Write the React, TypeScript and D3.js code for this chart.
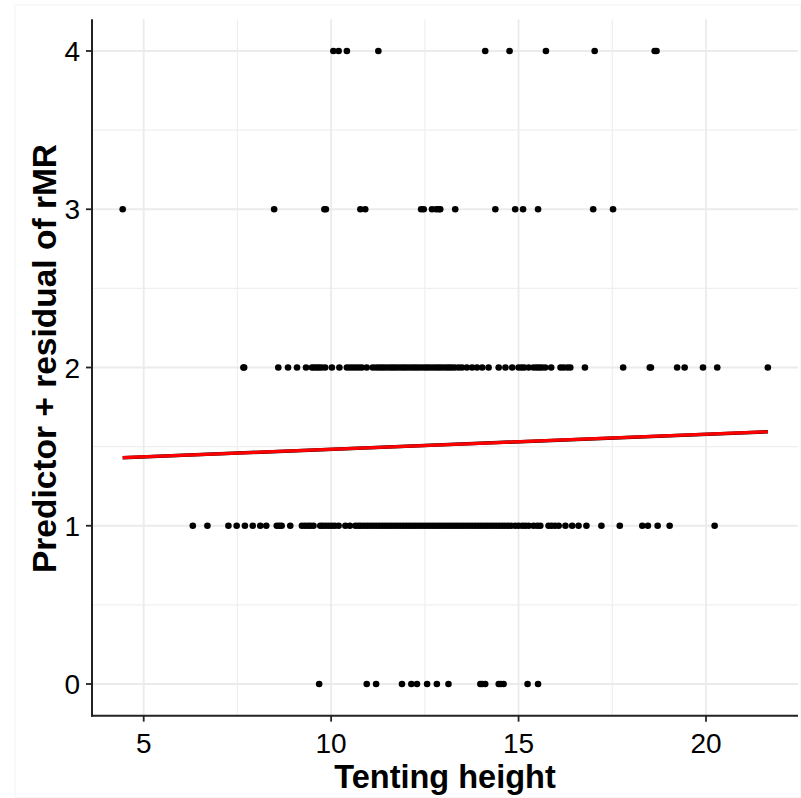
import React from "react";
import * as d3 from "d3";

const row0 = [9.68, 10.95, 11.2, 11.89, 12.14, 12.29, 12.56, 12.82, 13.13, 13.98, 14.03, 14.11, 14.47, 14.53, 14.6, 15.24, 15.52];
const row1 = [6.31, 6.7, 7.26, 7.48, 7.7, 7.91, 8.11, 8.27, 8.55, 8.62, 8.68, 8.91, 9.22, 9.3, 9.38, 9.45, 9.53, 9.71, 9.78, 9.86, 9.94, 10.02, 10.1, 10.2, 10.38, 10.5, 10.65, 10.73, 10.8, 10.88, 10.96, 11.04, 11.12, 11.2, 11.28, 11.36, 11.44, 11.52, 11.6, 11.68, 11.76, 11.84, 11.92, 12.0, 12.08, 12.16, 12.24, 12.32, 12.4, 12.48, 12.56, 12.64, 12.72, 12.8, 12.88, 12.96, 13.04, 13.12, 13.2, 13.28, 13.36, 13.44, 13.52, 13.6, 13.68, 13.76, 13.84, 13.92, 14.0, 14.08, 14.16, 14.24, 14.32, 14.4, 14.48, 14.56, 14.64, 14.72, 14.8, 14.91, 15.0, 15.1, 15.18, 15.27, 15.4, 15.5, 15.58, 15.8, 15.88, 15.97, 16.07, 16.25, 16.43, 16.6, 16.81, 17.21, 17.7, 18.3, 18.45, 18.71, 19.03, 20.23];
const row2 = [7.66, 7.68, 8.59, 8.85, 9.09, 9.33, 9.49, 9.55, 9.62, 9.68, 9.75, 9.84, 10.02, 10.22, 10.42, 10.5, 10.58, 10.66, 10.74, 10.82, 10.95, 11.11, 11.2, 11.28, 11.35, 11.42, 11.5, 11.58, 11.65, 11.72, 11.8, 11.88, 11.95, 12.02, 12.1, 12.18, 12.25, 12.32, 12.4, 12.48, 12.55, 12.62, 12.7, 12.78, 12.85, 12.92, 13.0, 13.08, 13.15, 13.22, 13.3, 13.4, 13.49, 13.62, 13.76, 13.89, 14.03, 14.2, 14.47, 14.65, 14.83, 15.0, 15.08, 15.15, 15.27, 15.4, 15.48, 15.55, 15.62, 15.71, 15.87, 16.12, 16.2, 16.3, 16.38, 16.77, 17.79, 18.5, 18.53, 19.23, 19.43, 19.92, 20.3, 21.65];
const row3 = [4.44, 8.48, 9.82, 9.86, 10.78, 10.91, 12.4, 12.47, 12.69, 12.8, 12.87, 12.91, 13.31, 14.38, 14.91, 15.12, 15.52, 16.99, 17.52];
const row4 = [10.06, 10.2, 10.42, 11.26, 14.11, 14.76, 15.73, 17.03, 18.63, 18.68];
const rows = [row0, row1, row2, row3, row4];

const fitX = [4.44, 21.65];
const fitY = [1.43, 1.594];

const xTicks = [5, 10, 15, 20];
const xMinor = [7.5, 12.5, 17.5];
const yTicks = [0, 1, 2, 3, 4];
const yMinor = [0.5, 1.5, 2.5, 3.5];

const W = 801, H = 798;
const L = 92, R = 798, T = 19.35, B = 715.65;

export default function App() {
  const x = d3.scaleLinear().domain([3.621, 22.454]).range([L, R]);
  const y = d3.scaleLinear().domain([-0.2, 4.2]).range([B, T]);
  const line = d3.line<number>().x((d, i) => x(fitX[i])).y((d) => y(d));
  const font = "'Liberation Sans', Arial, sans-serif";
  const pts: { x: number; y: number }[] = [];
  rows.forEach((r, yi) => r.forEach((v) => pts.push({ x: v, y: yi })));
  return (
    <svg width={W} height={H} style={{ position: "absolute", left: 0, top: 0 }}>
      <rect x={0} y={0} width={W} height={H} fill="#fff" />
      <rect x={15} y={5} width={W - 15} height={H - 5} fill="none" stroke="#f3f3f3" strokeWidth={1} />
      {xMinor.map((t) => (
        <line key={"xm" + t} x1={x(t)} x2={x(t)} y1={T} y2={B} stroke="#efefef" strokeWidth={1.2} />
      ))}
      {yMinor.map((t) => (
        <line key={"ym" + t} x1={L} x2={R} y1={y(t)} y2={y(t)} stroke="#efefef" strokeWidth={1.2} />
      ))}
      {xTicks.map((t) => (
        <line key={"xg" + t} x1={x(t)} x2={x(t)} y1={T} y2={B} stroke="#ebebeb" strokeWidth={1.8} />
      ))}
      {yTicks.map((t) => (
        <line key={"yg" + t} x1={L} x2={R} y1={y(t)} y2={y(t)} stroke="#ebebeb" strokeWidth={1.8} />
      ))}
      {pts.map((p, i) => (
        <circle key={i} cx={x(p.x)} cy={y(p.y)} r={3.3} fill="#000" />
      ))}
      <path d={line(fitY) || ""} stroke="#000" strokeWidth={3.5} fill="none" />
      <path d={line(fitY) || ""} stroke="#ff0000" strokeWidth={3.2} fill="none" />
      <line x1={L} x2={L} y1={T} y2={B + 1} stroke="#222" strokeWidth={2} />
      <line x1={L - 1} x2={R} y1={B} y2={B} stroke="#222" strokeWidth={2} />
      {xTicks.map((t) => (
        <g key={"xt" + t}>
          <line x1={x(t)} x2={x(t)} y1={B} y2={B + 6} stroke="#222" strokeWidth={1.8} />
          <text x={x(t)} y={753} textAnchor="middle" fontFamily={font} fontSize={28} fill="#000">{t}</text>
        </g>
      ))}
      {yTicks.map((t) => (
        <g key={"yt" + t}>
          <line x1={L - 6} x2={L} y1={y(t)} y2={y(t)} stroke="#222" strokeWidth={1.8} />
          <text x={80} y={y(t) + 10} textAnchor="end" fontFamily={font} fontSize={28} fill="#000">{t}</text>
        </g>
      ))}
      <text x={(L + R) / 2} y={788} textAnchor="middle" fontFamily={font} fontSize={32.5} fontWeight="bold" fill="#000">Tenting height</text>
      <text transform={`translate(56,${(T + B) / 2 - 9}) rotate(-90)`} textAnchor="middle" fontFamily={font} fontSize={33.5} fontWeight="bold" fill="#000">Predictor + residual of rMR</text>
    </svg>
  );
}
